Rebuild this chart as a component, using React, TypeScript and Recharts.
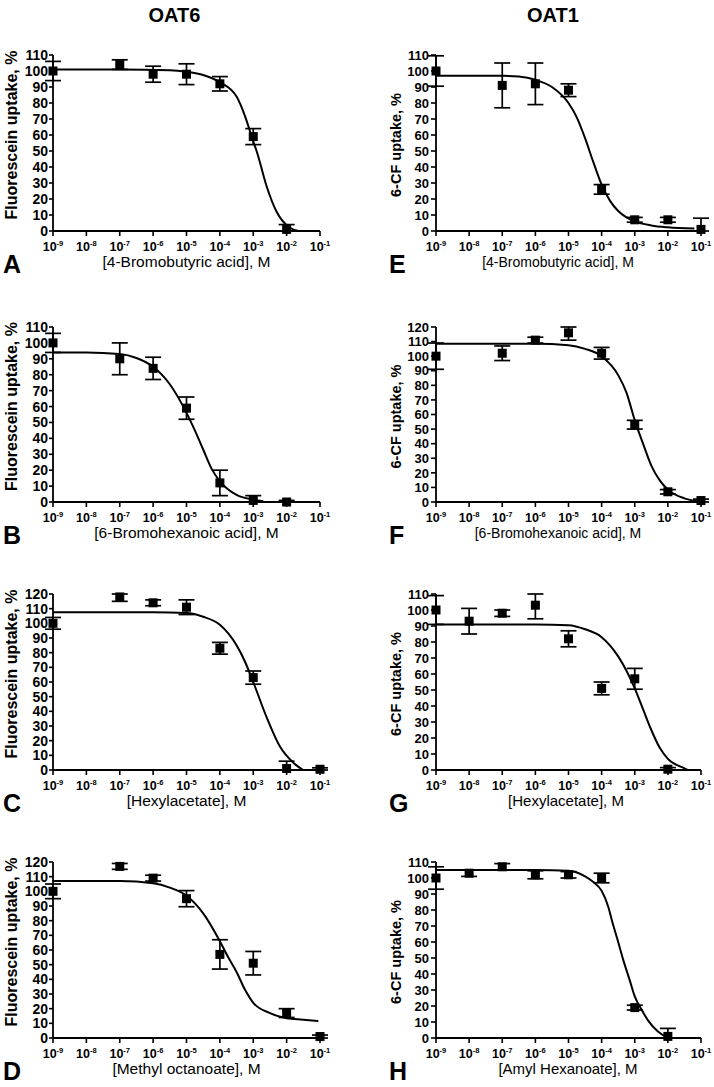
import React from 'react';
import { ComposedChart, Scatter, Line, XAxis, YAxis, ErrorBar } from 'recharts';

const FONT = '"Liberation Sans", Arial, Helvetica, sans-serif';

// log10 concentration ticks (10^-9 ... 10^-1 M)
const xTicks = [-9, -8, -7, -6, -5, -4, -3, -2, -1];

// ---- Panel A: OAT6, 4-Bromobutyric acid ----
const aX = [-9, -7, -6, -5, -4, -3, -2];
const aY = [100, 104, 98, 98, 92, 59, 1];
const aErr = [6, 3, 5, 6.5, 4.5, 5, 3];
const aCurveX = [-9, -7, -5.5, -5, -4.5, -4, -3.5, -3.25, -3, -2.9, -2.6, -2.3, -1.9, -1.65];
const aCurveY = [101, 101, 100.5, 99.5, 97.5, 93, 84, 72, 56, 50, 28, 12, 2, 0];

// ---- Panel B: OAT6, 6-Bromohexanoic acid ----
const bX = [-9, -7, -6, -5, -4, -3, -2];
const bY = [100, 90, 84, 59, 12, 1, 0];
const bErr = [6, 10, 7, 7, 8, 3, 1];
const bCurveX = [-9, -8, -7, -6.5, -6, -5.5, -5, -4.75, -4.5, -4.25, -4, -3.5, -3, -2.7];
const bCurveY = [94, 94, 93, 90.5, 85, 74, 56, 45, 33, 21, 13, 4.5, 1.5, 0.5];

// ---- Panel C: OAT6, Hexylacetate ----
const cX = [-9, -7, -6, -5, -4, -3, -2, -1];
const cY = [100, 118, 114, 111, 83, 63, 1, 0.5];
const cErr = [4, 3, 2, 5, 4, 4.5, 5, 1];
const cCurveX = [-9, -6, -5, -4.5, -4, -3.5, -3.25, -3, -2.6, -2.2, -1.8, -1.5];
const cCurveY = [107.5, 107.5, 107, 104.5, 99, 85, 74, 60, 36, 16, 5, 0];

// ---- Panel D: OAT6, Methyl octanoate ----
const dX = [-9, -7, -6, -5, -4, -3, -2, -1];
const dY = [100, 117, 109, 95, 57, 51, 17, 1];
const dErr = [5, 2, 2, 5.5, 10, 8, 3, 1];
const dCurveX = [-9, -7, -6, -5.5, -5, -4.5, -4, -3.75, -3.5, -3.25, -3, -2.5, -2, -1.5, -1.05];
const dCurveY = [107, 107, 105.5, 102.5, 97, 85, 66, 55, 45, 33, 24, 17, 13.5, 12.5, 11.5];

// ---- Panel E: OAT1, 4-Bromobutyric acid ----
const eX = [-9, -7, -6, -5, -4, -3, -2, -1];
const eY = [100, 91, 92, 88, 26, 7, 7, 1];
const eErr = [9.5, 14, 13, 4, 3, 1.5, 1.5, 7];
const eCurveX = [-9, -7, -6.5, -6, -5.5, -5, -4.75, -4.5, -4.25, -4, -3.75, -3.5, -3.25, -3, -2.5, -2, -1.2];
const eCurveY = [97, 97, 96.5, 94.5, 90, 80, 71, 58, 43, 29, 19, 12.5, 8.5, 6, 3.5, 2.3, 1.5];

// ---- Panel F: OAT1, 6-Bromohexanoic acid ----
const fX = [-9, -7, -6, -5, -4, -3, -2, -1];
const fY = [100, 102, 111, 116, 102, 53, 7, 1];
const fErr = [9, 5, 2, 5, 4, 3, 1.5, 1];
const fCurveX = [-9, -6, -5, -4.5, -4, -3.5, -3.25, -3, -2.75, -2.5, -2.25, -2, -1.5, -1.1];
const fCurveY = [108.5, 108.5, 107.5, 105, 100, 87, 75, 56, 40, 25, 15, 8.5, 2.5, 0.5];

// ---- Panel G: OAT1, Hexylacetate ----
const gX = [-9, -8, -7, -6, -5, -4, -3, -2];
const gY = [100, 93, 98, 103, 82, 51, 57, 0.5];
const gErr = [9, 8, 2, 8.5, 5, 4, 6.5, 1];
const gCurveX = [-9, -6, -5, -4.5, -4, -3.5, -3.25, -3, -2.75, -2.5, -2.25, -2, -1.5, -1.4];
const gCurveY = [91, 91, 90.5, 88, 83, 71, 62, 51, 38, 25, 14, 7, 1, 0];

// ---- Panel H: OAT1, Amyl Hexanoate ----
const hX = [-9, -8, -7, -6, -5, -4, -3, -2];
const hY = [100, 103, 107, 102, 102, 100, 19, 1];
const hErr = [7, 2, 2, 2.5, 2, 3, 1.5, 5];
const hCurveX = [-9, -6, -5, -4.5, -4.25, -4, -3.8, -3.67, -3.5, -3.35, -3.15, -3, -2.8, -2.6, -2.3, -2];
const hCurveY = [105, 105, 104.5, 101, 97.5, 92, 82, 72, 60, 49, 36, 26, 18, 11, 4, 0];

type Pt = { x: number; y: number; e: [number, number] };

function makePoints(xs: number[], ys: number[], errs: number[], yMax: number): Pt[] {
  return xs.map((x, i) => ({
    x,
    y: ys[i],
    e: [Math.min(errs[i], ys[i]), Math.min(errs[i], yMax - ys[i])] as [number, number],
  }));
}
function makeCurve(xs: number[], ys: number[]) {
  return xs.map((x, i) => ({ x, y: ys[i] }));
}
function yTicksFor(max: number) {
  const t: number[] = [];
  for (let v = 0; v <= max; v += 10) t.push(v);
  return t;
}

const XTick = (props: any) => {
  const { x, y, payload } = props;
  return (
    <text x={x} y={y + 12.5} textAnchor="middle" fontFamily={FONT} fontWeight="bold" fontSize={12.5} fill="#000">
      10
      <tspan fontSize={7.5} dy={-5}>
        {String(payload.value)}
      </tspan>
    </text>
  );
};

const makeYTick = (fs: number) => (props: any) => {
  const { x, y, payload } = props;
  return (
    <text x={x} y={y} dy={fs * 0.36} textAnchor="end" fontFamily={FONT} fontWeight="bold" fontSize={fs} fill="#000">
      {String(payload.value)}
    </text>
  );
};
const YTickLeft = makeYTick(14);
const YTickRight = makeYTick(13);

const Square = (props: any) => {
  const { cx, cy } = props;
  if (cx == null || cy == null) return null;
  return <rect x={cx - 4.5} y={cy - 4.5} width={9} height={9} fill="#000" />;
};

type PanelProps = {
  px0: number;
  px1: number;
  py0: number;
  py1: number;
  yMax: number;
  points: Pt[];
  curve: { x: number; y: number }[];
  right: boolean;
  tickSize: number;
  tickMargin: number;
};

const YW = 50;
const TOPM = 8;
const RIGHTM = 12;
const XH = 30;

function Panel(p: PanelProps) {
  const width = p.px1 - p.px0 + YW + RIGHTM;
  const height = p.py1 - p.py0 + TOPM + XH;
  const YT = p.right ? YTickRight : YTickLeft;
  return (
    <div style={{ position: 'absolute', left: p.px0 - YW, top: p.py0 - TOPM, width, height }}>
      <ComposedChart width={width} height={height} margin={{ top: TOPM, right: RIGHTM, left: 0, bottom: 0 }}>
        <XAxis
          type="number"
          dataKey="x"
          domain={[-9, -1]}
          ticks={xTicks}
          interval={0}
          height={XH}
          tick={<XTick />}
          tickSize={5}
          tickMargin={2}
          axisLine={{ stroke: '#000', strokeWidth: 1.8 }}
          tickLine={{ stroke: '#000', strokeWidth: 1.6 }}
        />
        <YAxis
          type="number"
          dataKey="y"
          domain={[0, p.yMax]}
          ticks={yTicksFor(p.yMax)}
          interval={0}
          width={YW}
          tickSize={p.tickSize}
          tickMargin={p.tickMargin}
          tick={<YT />}
          axisLine={{ stroke: '#000', strokeWidth: 1.8 }}
          tickLine={{ stroke: '#000', strokeWidth: 1.6 }}
        />
        <Line
          data={p.curve}
          dataKey="y"
          type="monotone"
          stroke="#000"
          strokeWidth={2}
          dot={false}
          activeDot={false}
          isAnimationActive={false}
        />
        <Scatter data={p.points} dataKey="y" shape={<Square />} isAnimationActive={false}>
          <ErrorBar dataKey="e" direction="y" width={8} stroke="#000" strokeWidth={1.7} />
        </Scatter>
      </ComposedChart>
    </div>
  );
}

const L0 = 53;
const L1 = 320;
const R0 = 436;
const R1 = 701;
const rows: [number, number][] = [
  [55, 231],
  [327, 502],
  [594, 770],
  [862, 1038],
];

const leftYMax = [110, 110, 120, 120];
const rightYMax = [110, 120, 110, 110];

const leftPoints = [
  makePoints(aX, aY, aErr, leftYMax[0]),
  makePoints(bX, bY, bErr, leftYMax[1]),
  makePoints(cX, cY, cErr, leftYMax[2]),
  makePoints(dX, dY, dErr, leftYMax[3]),
];
const leftCurves = [
  makeCurve(aCurveX, aCurveY),
  makeCurve(bCurveX, bCurveY),
  makeCurve(cCurveX, cCurveY),
  makeCurve(dCurveX, dCurveY),
];
const rightPoints = [
  makePoints(eX, eY, eErr, rightYMax[0]),
  makePoints(fX, fY, fErr, rightYMax[1]),
  makePoints(gX, gY, gErr, rightYMax[2]),
  makePoints(hX, hY, hErr, rightYMax[3]),
];
const rightCurves = [
  makeCurve(eCurveX, eCurveY),
  makeCurve(fCurveX, fCurveY),
  makeCurve(gCurveX, gCurveY),
  makeCurve(hCurveX, hCurveY),
];

const leftXTitles = ['[4-Bromobutyric acid], M', '[6-Bromohexanoic acid], M', '[Hexylacetate], M', '[Methyl octanoate], M'];
const rightXTitles = ['[4-Bromobutyric acid], M', '[6-Bromohexanoic acid], M', '[Hexylacetate], M', '[Amyl Hexanoate], M'];
const leftLetters = ['A', 'B', 'C', 'D'];
const rightLetters = ['E', 'F', 'G', 'H'];
const rightXTitleCenters = [558, 558, 566, 568];
const rightXTitleFs = [14, 14, 15, 15];

export default function App() {
  return (
    <div style={{ position: 'absolute', left: 0, top: 0, width: 714, height: 1087, background: '#fff', overflow: 'hidden' }}>
      {rows.map(([t, b], i) => (
        <Panel
          key={'L' + i}
          px0={L0}
          px1={L1}
          py0={t}
          py1={b}
          yMax={leftYMax[i]}
          points={leftPoints[i]}
          curve={leftCurves[i]}
          right={false}
          tickSize={4}
          tickMargin={1}
        />
      ))}
      {rows.map(([t, b], i) => (
        <Panel
          key={'R' + i}
          px0={R0}
          px1={R1}
          py0={t}
          py1={b}
          yMax={rightYMax[i]}
          points={rightPoints[i]}
          curve={rightCurves[i]}
          right={true}
          tickSize={5}
          tickMargin={2}
        />
      ))}
      <svg width={714} height={1087} style={{ position: 'absolute', left: 0, top: 0, pointerEvents: 'none' }}>
        <text x={174.5} y={22} textAnchor="middle" fontFamily={FONT} fontWeight="bold" fontSize={20} fill="#000">
          OAT6
        </text>
        <text x={553} y={22} textAnchor="middle" fontFamily={FONT} fontWeight="bold" fontSize={20} fill="#000">
          OAT1
        </text>
        {rows.map(([t, b], i) => {
          const lc = (t + b) / 2 - 8;
          const rc = (t + b) / 2 + 2;
          return (
            <g key={'txt' + i}>
              <text
                transform={`translate(17, ${lc}) rotate(-90)`}
                textAnchor="middle"
                fontFamily={FONT}
                fontWeight="bold"
                fontSize={16}
                fill="#000"
              >
                Fluorescein uptake, %
              </text>
              <text
                transform={`translate(401, ${rc}) rotate(-90)`}
                textAnchor="middle"
                fontFamily={FONT}
                fontWeight="bold"
                fontSize={14.5}
                fill="#000"
              >
                6-CF uptake, %
              </text>
              <text x={(L0 + L1) / 2} y={b + 35.5} textAnchor="middle" fontFamily={FONT} fontSize={15.5} fill="#000">
                {leftXTitles[i]}
              </text>
              <text x={rightXTitleCenters[i]} y={b + 35.5} textAnchor="middle" fontFamily={FONT} fontSize={rightXTitleFs[i]} fill="#000">
                {rightXTitles[i]}
              </text>
              <text x={3} y={b + 42} fontFamily={FONT} fontWeight="bold" fontSize={25} fill="#000">
                {leftLetters[i]}
              </text>
              <text x={389} y={b + 42} fontFamily={FONT} fontWeight="bold" fontSize={25} fill="#000">
                {rightLetters[i]}
              </text>
            </g>
          );
        })}
      </svg>
    </div>
  );
}
